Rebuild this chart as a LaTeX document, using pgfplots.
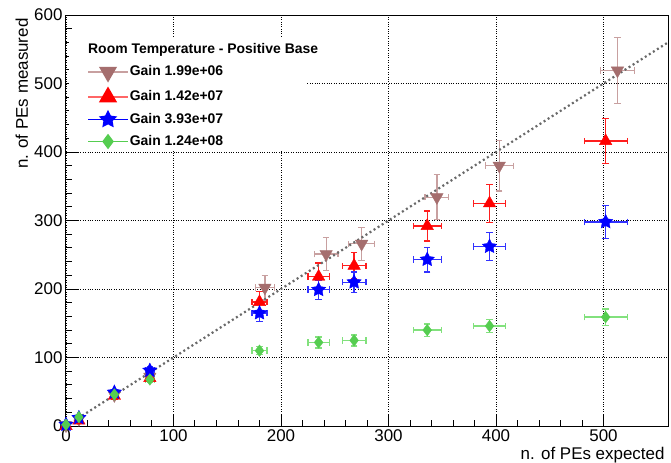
\documentclass[border=0pt]{standalone}
\usepackage{pgfplots}
\usepackage{pgfplotstable}
\pgfplotsset{compat=1.18}
\usepackage{fontspec}
\setmainfont{Liberation Sans}
\definecolor{cbrown}{RGB}{165,110,110}
\definecolor{cbrownE}{RGB}{200,160,160}
\definecolor{cred}{RGB}{255,0,0}
\definecolor{credE}{RGB}{255,30,30}
\definecolor{cblue}{RGB}{0,0,255}
\definecolor{cblueE}{RGB}{50,50,255}
\definecolor{cgreen}{RGB}{85,205,80}
\definecolor{cgreenE}{RGB}{130,225,125}
\definecolor{cline}{RGB}{105,105,105}
\pgfdeclareplotmark{fstar}{%
  \pgfpathmoveto{\pgfpointpolar{90}{\pgfplotmarksize}}%
  \pgfpathlineto{\pgfpointpolar{126}{0.5\pgfplotmarksize}}%
  \pgfpathlineto{\pgfpointpolar{162}{\pgfplotmarksize}}%
  \pgfpathlineto{\pgfpointpolar{198}{0.5\pgfplotmarksize}}%
  \pgfpathlineto{\pgfpointpolar{234}{\pgfplotmarksize}}%
  \pgfpathlineto{\pgfpointpolar{270}{0.5\pgfplotmarksize}}%
  \pgfpathlineto{\pgfpointpolar{306}{\pgfplotmarksize}}%
  \pgfpathlineto{\pgfpointpolar{342}{0.5\pgfplotmarksize}}%
  \pgfpathlineto{\pgfpointpolar{18}{\pgfplotmarksize}}%
  \pgfpathlineto{\pgfpointpolar{54}{0.5\pgfplotmarksize}}%
  \pgfpathclose
  \pgfusepathqfillstroke}

\pgfplotstableread{
x y ex ey
0 1 1 2
12 10 2 4
45 45 3 6
78 72 4 8
185 202 9 18
242 251 11 24
275 266 12 24
345 334 11 33
403 380 13 37
513 519 16 48
}\brown
\pgfplotstableread{
x y ex ey
0 0 1 2
12 8 2 3
45 44 3 5
78 70 4 6
180 181 7 15
235 218 10 20
268 234 11 19
336 292 13 22
394 325 15 28
502 416 20 33
}\red
\pgfplotstableread{
x y ex ey
0 2 1 2
12 12 2 3
45 49 3 4
78 81 4 5
180 165 7 12
235 199 10 14
268 210 11 15
336 243 13 18
394 262 15 20
502 298 20 24
}\blue
\pgfplotstableread{
x y ex ey
0 2 1 2
12 13 2 2
45 46 3 3
78 68 4 4
180 110 7 6
235 122 10 8
268 125 11 8
336 140 13 9
394 146 15 9
502 159 20 12
}\green

\begin{document}
\begin{tikzpicture}
\begin{axis}[name=ax, scale only axis, width=602bp, height=411bp,
  xmin=0, xmax=560, ymin=0, ymax=600,
  xtick={0,100,...,500}, ytick={0,100,...,600},
  minor x tick num=4, minor y tick num=4,
  tick pos=left, tick align=inside,
  major tick length=12bp, minor tick length=6bp,
  xmajorgrids, ymajorgrids,
  major grid style={black, dotted, line width=0.8bp},
  axis line style={line width=1bp},
  every tick/.style={black, line width=1bp},
  ticklabel style={font=\fontsize{17}{20}\selectfont},
  /pgf/number format/assume math mode=true,
  legend image code/.code={\draw[mark repeat=2,mark phase=2,#1] plot coordinates {(0bp,0bp)(20bp,0bp)(40bp,0bp)};},
  legend style={draw=none, fill=none, at={(0.035,0.88)}, anchor=north west, inner sep=0pt,
    font=\fontsize{14}{16}\selectfont\bfseries, row sep=7bp,
    nodes={inner sep=1bp, text height=10bp, text depth=3bp}},
  legend cell align=left,
  ebars/.style={forget plot, only marks, mark=none, color=#1,
    error bars/.cd, x dir=both, x explicit, y dir=both, y explicit,
    error bar style={color=#1, line width=1.3bp},
    error mark options={rotate=90, mark size=3.2bp, line width=1.3bp, color=#1}},
]
\fill[white] (rel axis cs:0.005,0.672) rectangle (rel axis cs:0.40,0.944);
\node[anchor=west, font=\fontsize{14}{16}\selectfont\bfseries, inner sep=0pt] at (rel axis cs:0.0365,0.915) {Room Temperature - Positive Base};

% error bars
\addplot[ebars=cbrownE] table[x=x,y=y,x error=ex,y error=ey]{\brown};
\addplot[ebars=credE] table[x=x,y=y,x error=ex,y error=ey]{\red};
\addplot[ebars=cblueE] table[x=x,y=y,x error=ex,y error=ey]{\blue};
\addplot[ebars=cgreenE] table[x=x,y=y,x error=ex,y error=ey]{\green};
% markers
\addplot[forget plot, only marks, mark=triangle*, mark size=7.2bp,
  mark options={rotate=180, fill=cbrown, draw=cbrown}] table[x=x,y=y]{\brown};
\addplot[forget plot, only marks, mark=triangle*, mark size=7.2bp,
  mark options={fill=cred, draw=cred}] table[x=x,y=y]{\red};
\addplot[forget plot, only marks, mark=fstar, mark size=7.5bp,
  mark options={fill=cblue, draw=cblue}] table[x=x,y=y]{\blue};
\addplot[forget plot, only marks, mark=diamond*, mark size=5.8bp,
  mark options={fill=cgreen, draw=cgreen}] table[x=x,y=y]{\green};

\addplot[forget plot, color=cline, line width=2.2bp, dash pattern=on 2bp off 2.8bp] coordinates {(0,0) (560,560)};

\addlegendimage{cbrownE, line width=1.5bp, mark=triangle*, mark size=9bp, mark options={rotate=180, fill=cbrown, draw=cbrown}}
\addlegendentry{Gain 1.99e+06}
\addlegendimage{red!60, line width=1.5bp, mark=triangle*, mark size=9bp, mark options={fill=cred, draw=cred}}
\addlegendentry{Gain 1.42e+07}
\addlegendimage{cblue, line width=1.5bp, mark=fstar, mark size=8bp, mark options={fill=cblue, draw=cblue}}
\addlegendentry{Gain 3.93e+07}
\addlegendimage{cgreen, line width=1.5bp, mark=diamond*, mark size=6.5bp, mark options={fill=cgreen, draw=cgreen}}
\addlegendentry{Gain 1.24e+08}
\end{axis}
\node[rotate=90, anchor=base east, font=\fontsize{17}{20}\selectfont] at ([xshift=-38bp]ax.north west) {n. of PEs measured};
\node[anchor=base east, font=\fontsize{17}{20}\selectfont] at ([yshift=-33bp]ax.south east) {n. of PEs expected};
\pgfresetboundingbox
\path[use as bounding box] ([shift={(-66bp,-37bp)}]ax.south west) rectangle ([shift={(3bp,15bp)}]ax.north east);
\end{tikzpicture}
\end{document}
